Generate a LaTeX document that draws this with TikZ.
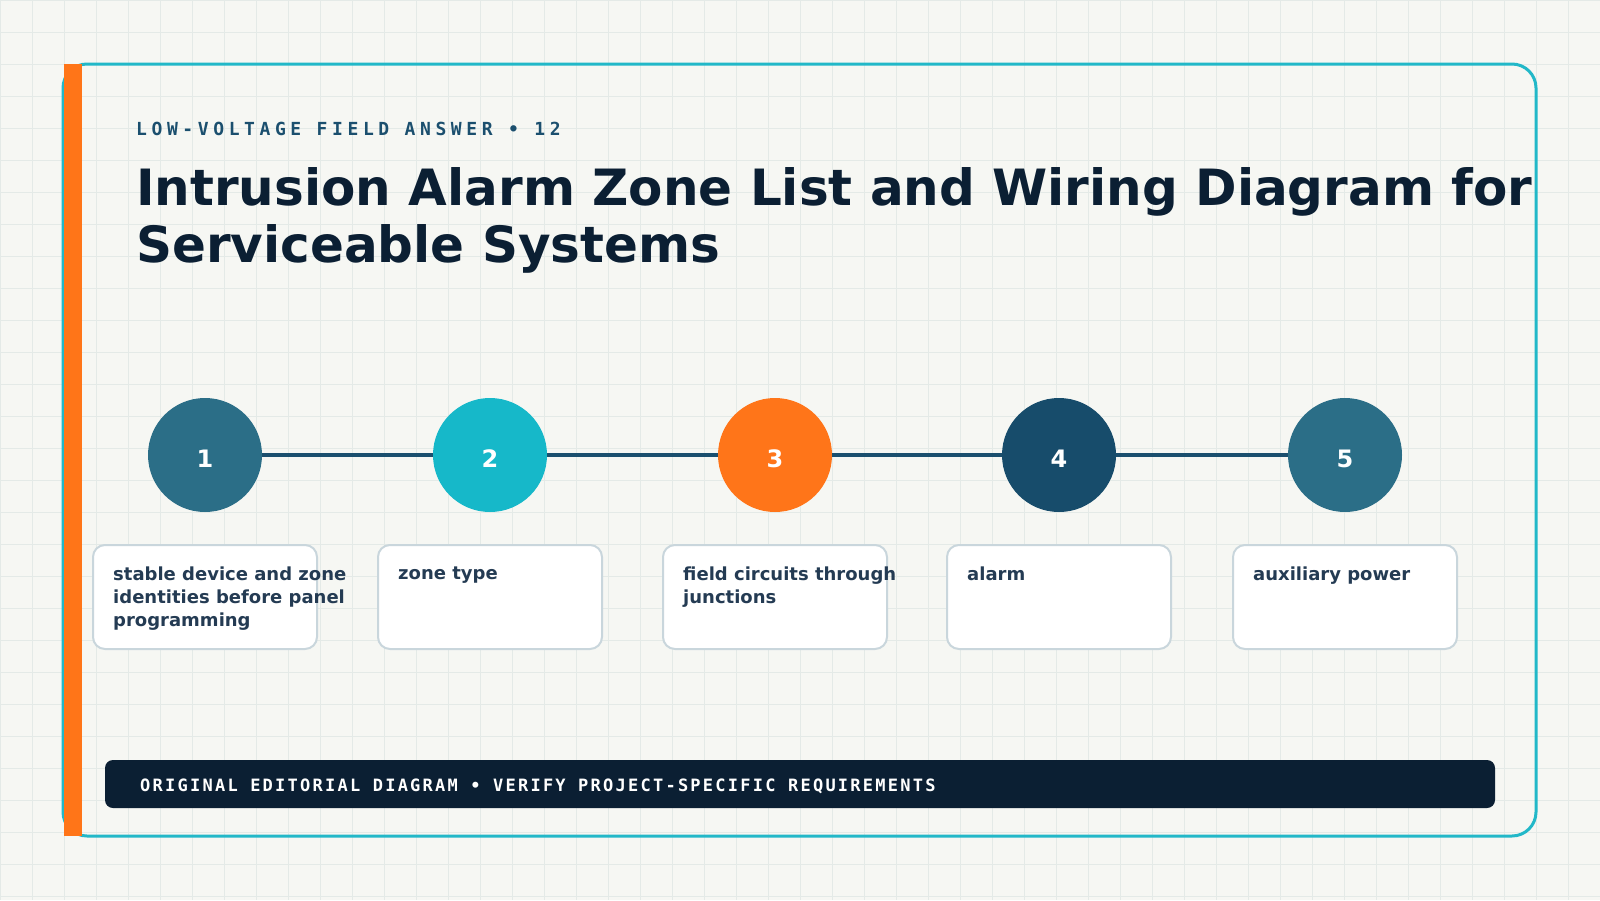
\documentclass[tikz,border=0pt]{standalone}
\usepackage{fontspec}
\setmainfont{DejaVu Sans}
\setmonofont{DejaVu Sans Mono}
\newfontfamily\subfont{DejaVu Sans Mono Bold}[LetterSpace=25.5]
\newfontfamily\footfont{DejaVu Sans Mono Bold}[LetterSpace=13.2]
\definecolor{bgc}{HTML}{F6F7F3}
\definecolor{gridc}{HTML}{E4EAE7}
\definecolor{framec}{HTML}{22B8C8}
\definecolor{orangec}{HTML}{FF7518}
\definecolor{navyc}{HTML}{0B1F33}
\definecolor{subc}{HTML}{1B4F6E}
\definecolor{boxtextc}{HTML}{243B53}
\definecolor{boxline}{HTML}{C9D6DC}
\definecolor{stepa}{HTML}{2B6E87}
\definecolor{stepb}{HTML}{16B8C9}
\definecolor{stepc}{HTML}{FF7519}
\definecolor{stepd}{HTML}{174C6B}
\definecolor{linkc}{HTML}{1B4F6E}
\tikzset{
  stepdot/.style={circle, minimum size=114pt, inner sep=0pt, text=white,
    font=\fontsize{24}{28}\selectfont\bfseries, text height=25.5pt, text depth=0pt},
  infobox/.style={rectangle, rounded corners=12pt, draw=boxline, line width=2pt,
    fill=white, minimum width=224pt, minimum height=104pt, inner sep=0pt},
  infotext/.style={anchor=north west, inner sep=0pt, align=left, text=boxtextc,
    font=\fontsize{18}{23}\selectfont\bfseries},
  link/.style={draw=linkc, line width=4.5pt},
}
\begin{document}
\begin{tikzpicture}[x=1pt,y=-1pt]
\useasboundingbox (0,0) rectangle (1600,900);
\fill[bgc] (0,0) rectangle (1600,900);
\foreach \i in {0,32,...,1600} \draw[gridc, line width=1pt] (\i,0) -- (\i,900);
\foreach \j in {0,32,...,900} \draw[gridc, line width=1pt] (0,\j) -- (1600,\j);
% frame
\draw[framec, line width=3pt, rounded corners=24pt] (63,64) rectangle (1536,836);
\fill[orangec] (64,64) rectangle (82,836);
% header
\node[anchor=base west, inner sep=0pt, text=subc, font=\subfont\fontsize{18}{22}\selectfont] (sub) at (136,135) {LOW-VOLTAGE FIELD ANSWER • 12};
\node[anchor=north west, inner sep=0pt, align=left, text=navyc, font=\fontsize{50}{57}\selectfont\bfseries] (title) at (136,167) {Intrusion Alarm Zone List and Wiring Diagram for\\Serviceable Systems};
% steps
\node[stepdot, fill=stepa] (c1) at (205,455) {1};
\node[stepdot, fill=stepb] (c2) at (490,455) {2};
\node[stepdot, fill=stepc] (c3) at (775,455) {3};
\node[stepdot, fill=stepd] (c4) at (1059,455) {4};
\node[stepdot, fill=stepa] (c5) at (1345,455) {5};
\draw[link] (c1) -- (c2);
\draw[link] (c2) -- (c3);
\draw[link] (c3) -- (c4);
\draw[link] (c4) -- (c5);
% boxes
\node[infobox] (b1) at (205,597) {};
\node[infobox] (b2) at (490,597) {};
\node[infobox] (b3) at (775,597) {};
\node[infobox] (b4) at (1059,597) {};
\node[infobox] (b5) at (1345,597) {};
\node[infotext] (t1) at (113,566.3) {stable device and zone\\identities before panel\\programming};
\node[infotext] (t2) at (398,566.8) {zone type};
\node[infotext] (t3) at (683,566.3) {field circuits through\\junctions};
\node[infotext] (t4) at (967,566.3) {alarm};
\node[infotext] (t5) at (1253,566.3) {auxiliary power};
% footer
\fill[navyc, rounded corners=8pt] (105,760) rectangle (1495,808);
\node[anchor=base west, inner sep=0pt, text=white, font=\footfont\fontsize{17}{20}\selectfont] (foot) at (140,791) {ORIGINAL EDITORIAL DIAGRAM • VERIFY PROJECT-SPECIFIC REQUIREMENTS};
\end{tikzpicture}
\end{document}
